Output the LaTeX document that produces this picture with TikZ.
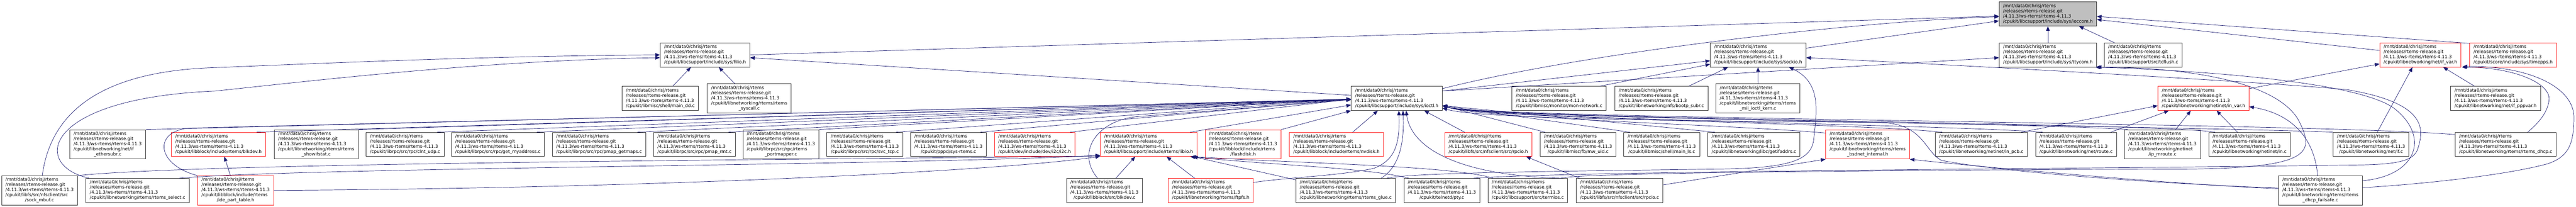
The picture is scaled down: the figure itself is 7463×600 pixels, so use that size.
\documentclass[tikz,border=0pt]{standalone}
\usepackage{fontspec}
\setmainfont{DejaVu Sans}
\usepackage{xcolor}
\usepackage{tikz}
\usetikzlibrary{shapes, arrows.meta, positioning, calc}
\definecolor{edgeblue}{RGB}{25,25,112}
\definecolor{truncred}{RGB}{255,30,30}
\definecolor{rootgray}{RGB}{191,191,191}
\newcommand{\rtfile}[1]{\begin{tabular}{@{}l@{}}/mnt/data0/chrisj/rtems\\/releases/rtems-release.git\\/4.11.3/ws-rtems/rtems-4.11.3\\#1\end{tabular}}
\newcommand{\lastln}[1]{\multicolumn{1}{@{}c@{}}{#1}}

\begin{document}
\begin{tikzpicture}
  [
    x=0.75pt, y=-0.75pt,
    >={Triangle[length=10pt, width=8pt]},
    File/.style={rectangle, draw=black!80, fill=white, line width=1pt, inner xsep=8.5pt, inner ysep=3.75pt, font=\fontsize{9.7}{11.2}\selectfont},
    Trunc/.style={File, draw=truncred},
    Root/.style={File, fill=rootgray},
    Edge/.style={draw=edgeblue, line width=0.8pt}
  ]
  \useasboundingbox (0,0) rectangle (7463,600);
  % Nodes
  \node[Root] (ioccom) at (5933, 40.6) {\rtfile{\lastln{/cpukit/libcsupport/include/sys/ioccom.h}}};
  \node[File] (filio) at (2042.5, 159.2) {\rtfile{\lastln{/cpukit/libcsupport/include/sys/filio.h}}};
  \node[File] (sockio) at (5093.5, 159.2) {\rtfile{\lastln{/cpukit/libcsupport/include/sys/sockio.h}}};
  \node[File] (ttycom) at (5933, 159.2) {\rtfile{\lastln{/cpukit/libcsupport/include/sys/ttycom.h}}};
  \node[File] (tcflush) at (6208.9, 159.2) {\rtfile{\lastln{/cpukit/libcsupport/src/tcflush.c}}};
  \node[Trunc] (ifvar) at (7012.2, 159.2) {\rtfile{\lastln{/cpukit/libnetworking/net/if\_var.h}}};
  \node[Trunc] (timepps) at (7280.5, 159.2) {\rtfile{\lastln{/cpukit/score/include/sys/timepps.h}}};
  \node[File] (maindd) at (1913, 285.3) {\rtfile{\lastln{/cpukit/libmisc/shell/main\_dd.c}}};
  \node[File] (syscall) at (2170.6, 285.3) {\rtfile{/cpukit/libnetworking/rtems/rtems\\\lastln{\_syscall.c}}};
  \node[File] (ioctl) at (4046.6, 285.3) {\rtfile{\lastln{/cpukit/libcsupport/include/sys/ioctl.h}}};
  \node[File] (monnet) at (4517, 285.3) {\rtfile{\lastln{/cpukit/libmisc/monitor/mon-network.c}}};
  \node[File] (bootp) at (4813.2, 285.3) {\rtfile{\lastln{/cpukit/libnetworking/nfs/bootp\_subr.c}}};
  \node[File] (miikern) at (5092.8, 285.3) {\rtfile{/cpukit/libnetworking/rtems/rtems\\\lastln{\_mii\_ioctl\_kern.c}}};
  \node[Trunc] (invar) at (6383.8, 285.3) {\rtfile{\lastln{/cpukit/libnetworking/netinet/in\_var.h}}};
  \node[File] (pppvar) at (7229.9, 285.3) {\rtfile{\lastln{/cpukit/libnetworking/net/if\_pppvar.h}}};
  \node[File] (ethersubr) at (311.8, 418.6) {\rtfile{/cpukit/libnetworking/net/if\\\lastln{\_ethersubr.c}}};
  \node[Trunc] (blkdevh) at (633, 418.6) {\rtfile{\lastln{/cpukit/libblock/include/rtems/blkdev.h}}};
  \node[File] (showifstat) at (916, 418.6) {\rtfile{/cpukit/libnetworking/rtems/rtems\\\lastln{\_showifstat.c}}};
  \node[File] (clntudp) at (1173.6, 418.6) {\rtfile{\lastln{/cpukit/librpc/src/rpc/clnt\_udp.c}}};
  \node[File] (getmyaddr) at (1442.4, 418.6) {\rtfile{\lastln{/cpukit/librpc/src/rpc/get\_myaddress.c}}};
  \node[File] (pmapgetmaps) at (1735.5, 418.6) {\rtfile{\lastln{/cpukit/librpc/src/rpc/pmap\_getmaps.c}}};
  \node[File] (pmaprmt) at (2012, 418.6) {\rtfile{\lastln{/cpukit/librpc/src/rpc/pmap\_rmt.c}}};
  \node[File] (portmapper) at (2262.5, 418.6) {\rtfile{/cpukit/librpc/src/rpc/rtems\\\lastln{\_portmapper.c}}};
  \node[File] (svctcp) at (2505.5, 418.6) {\rtfile{\lastln{/cpukit/librpc/src/rpc/svc\_tcp.c}}};
  \node[File] (sysrtems) at (2747.8, 418.6) {\rtfile{\lastln{/cpukit/pppd/sys-rtems.c}}};
  \node[Trunc] (i2c) at (2997.3, 418.6) {\rtfile{\lastln{/cpukit/dev/include/dev/i2c/i2c.h}}};
  \node[Trunc] (libio) at (3327.8, 418.6) {\rtfile{\lastln{/cpukit/libcsupport/include/rtems/libio.h}}};
  \node[Trunc] (flashdisk) at (3601.3, 418.6) {\rtfile{/cpukit/libblock/include/rtems\\\lastln{/flashdisk.h}}};
  \node[Trunc] (nvdisk) at (3871.8, 418.6) {\rtfile{\lastln{/cpukit/libblock/include/rtems/nvdisk.h}}};
  \node[Trunc] (rpcioh) at (4311.7, 418.6) {\rtfile{\lastln{/cpukit/libfs/src/nfsclient/src/rpcio.h}}};
  \node[File] (mwuid) at (4571.8, 418.6) {\rtfile{\lastln{/cpukit/libmisc/fb/mw\_uid.c}}};
  \node[File] (mainls) at (4814.3, 418.6) {\rtfile{\lastln{/cpukit/libmisc/shell/main\_ls.c}}};
  \node[File] (getifaddrs) at (5081.3, 418.6) {\rtfile{\lastln{/cpukit/libnetworking/libc/getifaddrs.c}}};
  \node[Trunc] (bsdnetint) at (5410.8, 418.6) {\rtfile{/cpukit/libnetworking/rtems/rtems\\\lastln{\_bsdnet\_internal.h}}};
  \node[File] (inpcb) at (5740, 418.6) {\rtfile{\lastln{/cpukit/libnetworking/netinet/in\_pcb.c}}};
  \node[File] (route) at (6014.5, 418.6) {\rtfile{\lastln{/cpukit/libnetworking/net/route.c}}};
  \node[File] (ipmroute) at (6264.8, 418.6) {\rtfile{/cpukit/libnetworking/netinet\\\lastln{/ip\_mroute.c}}};
  \node[File] (inc) at (6517.3, 418.6) {\rtfile{\lastln{/cpukit/libnetworking/netinet/in.c}}};
  \node[File] (ifc) at (6869.2, 418.6) {\rtfile{\lastln{/cpukit/libnetworking/net/if.c}}};
  \node[File] (dhcp) at (7259.1, 418.6) {\rtfile{\lastln{/cpukit/libnetworking/rtems/rtems\_dhcp.c}}};
  \node[File] (sockmbuf) at (114.5, 551.9) {\rtfile{/cpukit/libfs/src/nfsclient/src\\\lastln{/sock\_mbuf.c}}};
  \node[File] (select) at (398.5, 551.9) {\rtfile{\lastln{/cpukit/libnetworking/rtems/rtems\_select.c}}};
  \node[Trunc] (idepart) at (682.5, 551.9) {\rtfile{/cpukit/libblock/include/rtems\\\lastln{/ide\_part\_table.h}}};
  \node[File] (blkdevc) at (3199.8, 551.9) {\rtfile{\lastln{/cpukit/libblock/src/blkdev.c}}};
  \node[Trunc] (ftpfs) at (3507.8, 551.9) {\rtfile{\lastln{/cpukit/libnetworking/rtems/ftpfs.h}}};
  \node[File] (glue) at (3898.6, 551.9) {\rtfile{\lastln{/cpukit/libnetworking/rtems/rtems\_glue.c}}};
  \node[File] (pty) at (4177.3, 551.9) {\rtfile{\lastln{/cpukit/telnetd/pty.c}}};
  \node[File] (termios) at (4426.2, 551.9) {\rtfile{\lastln{/cpukit/libcsupport/src/termios.c}}};
  \node[File] (rpcioc) at (4692, 551.9) {\rtfile{\lastln{/cpukit/libfs/src/nfsclient/src/rpcio.c}}};
  \node[File] (failsafe) at (6722.4, 551.9) {\rtfile{/cpukit/libnetworking/rtems/rtems\\\lastln{\_dhcp\_failsafe.c}}};
  % Lines into ioccom.h
  \path [<-, draw, Edge] ($(ioccom.west)+(0,6)$) -- (filio.east);
  \path [<-, draw, Edge] ($(ioccom.west)+(0,8)$) .. controls (5400,60) and (4600,150) .. ($(ioctl.north east)+(0,7)$);
  \path [<-, draw, Edge] ($(ioccom.west)+(0,20)$) -- ($(sockio.north east)+(0,16)$);
  \path [<-, draw, Edge] (ioccom) -- (ttycom);
  \path [<-, draw, Edge] ($(ioccom.south east)+(-52,0)$) -- ($(tcflush.north west)+(30,0)$);
  \path [<-, draw, Edge] ($(ioccom.east)+(0,7)$) -- ($(timepps.north west)+(0,2)$);
  \path [<-, draw, Edge] ($(ioccom.east)+(0,16)$) -- ($(ifvar.west)+(0,-13)$);
  % Lines into filio.h
  \path [<-, draw, Edge] (filio.west) .. controls (1400,162) and (900,185) .. (622,196) .. controls (330,205) and (150,300) .. ($(sockmbuf.north)+(8,0)$);
  \path [<-, draw, Edge] ($(filio.west)+(0,8)$) .. controls (1400,175) and (900,235) .. (622,264) .. controls (120,285) and (90,480) .. ($(select.north west)+(10,0)$);
  \path [<-, draw, Edge] ($(filio.south)+(-41,0)$) -- ($(maindd.north)+(36,0)$);
  \path [<-, draw, Edge] ($(filio.south)+(40,0)$) -- ($(syscall.north)+(-42,0)$);
  \path [<-, draw, Edge] ($(filio.east)+(0,8)$) -- ($(ioctl.west)+(0,-9)$);
  % Lines into sockio.h
  \path [<-, draw, Edge] ($(sockio.west)+(0,17)$) -- ($(ioctl.north east)+(0,14)$);
  \path [<-, draw, Edge] ($(sockio.west)+(0,27)$) -- ($(monnet.north east)+(-19,0)$);
  \path [<-, draw, Edge] ($(sockio.south west)+(52,0)$) -- ($(bootp.north east)+(-56,0)$);
  \path [<-, draw, Edge] (sockio) -- (miikern);
  \path [<-, draw, Edge] ($(sockio.south east)+(-50,0)$) .. controls (5280,240) and (5262,330) .. (5255,400) .. controls (5250,460) and (5200,488) .. (4976,490) .. controls (4500,497) and (4100,500) .. ($(glue.north east)+(-26,0)$);
  \path [<-, draw, Edge] ($(sockio.east)+(0,8)$) .. controls (5700,190) and (6600,240) .. (6800,260) .. controls (7040,300) and (7020,380) .. (7005,430) .. controls (6995,465) and (6950,476) .. (6842,478) .. controls (6000,490) and (4600,495) .. ($(pty.north east)+(-19,0)$);
  % Lines into ttycom.h
  \path [<-, draw, Edge] ($(ttycom.west)+(0,8)$) -- ($(ioctl.north east)+(0,14)$);
  \path [<-, draw, Edge] (ttycom.south east) .. controls (6350,195) and (6600,240) .. (6660,350) .. controls (6710,450) and (6700,495) .. (6220,490) .. controls (5500,494) and (4580,500) .. ($(termios.north east)+(-20,0)$);
  \path [<-, draw, Edge] ($(ttycom.south east)+(-4,0)$) .. controls (6400,205) and (6850,240) .. (6941,318) .. controls (7040,400) and (7000,510) .. ($(failsafe.east)+(0,-28)$);
  % Lines into if_var.h
  \path [<-, draw, Edge] ($(ifvar.west)+(0,26)$) -- ($(invar.north east)+(0,7)$);
  \path [<-, draw, Edge] ($(ifvar.south)+(-23,0)$) -- ($(ifc.north)+(18,0)$);
  \path [<-, draw, Edge] ($(ifvar.south)+(66,0)$) -- ($(pppvar.north)+(-61,0)$);
  \path [<-, draw, Edge] ($(ifvar.south east)+(2,0)$) .. controls (7280,195) and (7390,240) .. (7385,290) .. controls (7380,330) and (7350,360) .. ($(dhcp.north east)+(-83,0)$);
  \path [<-, draw, Edge] ($(ifvar.south east)+(4,-2)$) .. controls (7320,190) and (7460,250) .. (7457,344) .. controls (7456,420) and (7440,455) .. (7380,475) .. controls (7250,510) and (7000,535) .. ($(failsafe.east)+(0,-8)$);
  % Lines into in_var.h
  \path [<-, draw, Edge] ($(invar.west)+(0,21)$) -- ($(inpcb.north east)+(-18,0)$);
  \path [<-, draw, Edge] ($(invar.south west)+(32,0)$) -- ($(route.north east)+(-17,0)$);
  \path [<-, draw, Edge] ($(invar.south)+(-37,0)$) -- ($(ipmroute.north)+(38,0)$);
  \path [<-, draw, Edge] ($(invar.south)+(38,0)$) -- ($(inc.north)+(-35,0)$);
  \path [<-, draw, Edge] ($(invar.east)+(0,24)$) .. controls (6640,330) and (6705,400) .. ($(failsafe.north)+(-8,0)$);
  % Lines into ioctl.h from the left
  \path [<-, draw, Edge] ($(ioctl.west)+(0,2)$) -- (ethersubr.north east);
  \path [<-, draw, Edge] ($(ioctl.west)+(0,2)$) -- ($(blkdevh.north east)+(-27,0)$);
  \path [<-, draw, Edge] ($(ioctl.west)+(0,3)$) -- (560,371) .. controls (445,372) and (445,475) .. (idepart.north west);
  \path [<-, draw, Edge] ($(ioctl.west)+(0,2)$) -- (showifstat.north east);
  \path [<-, draw, Edge] ($(ioctl.west)+(0,2)$) -- ($(clntudp.north east)+(-21,0)$);
  \path [<-, draw, Edge] ($(ioctl.west)+(0,2)$) -- ($(getmyaddr.north east)+(-23,0)$);
  \path [<-, draw, Edge] ($(ioctl.west)+(0,2)$) -- ($(pmapgetmaps.north east)+(-25,0)$);
  \path [<-, draw, Edge] ($(ioctl.west)+(0,2)$) -- ($(pmaprmt.north east)+(-21,0)$);
  \path [<-, draw, Edge] ($(ioctl.west)+(0,2)$) -- (portmapper.north east);
  \path [<-, draw, Edge] ($(ioctl.west)+(0,2)$) -- ($(svctcp.north east)+(-20,0)$);
  \path [<-, draw, Edge] ($(ioctl.west)+(0,2)$) -- ($(sysrtems.north east)+(-18,0)$);
  \path [<-, draw, Edge] ($(ioctl.west)+(0,2)$) -- ($(i2c.north east)+(-14,0)$);
  \path [<-, draw, Edge] ($(ioctl.west)+(0,4)$) -- (3308,337) .. controls (3180,343) and (3115,440) .. ($(blkdevc.north)+(-20,0)$);
  \path [<-, draw, Edge] ($(ioctl.west)+(0,19)$) -- ($(libio.north east)+(-20,0)$);
  \path [<-, draw, Edge] (ioctl.south west) -- (flashdisk.north east);
  % Lines into ioctl.h from below
  \path [<-, draw, Edge] ($(ioctl.south)+(-55,0)$) -- ($(nvdisk.north)+(47,0)$);
  \path [<-, draw, Edge] ($(ioctl.south)+(6,0)$) .. controls (4056,420) and (4040,465) .. (3980,488) .. controls (3880,510) and (3720,515) .. ($(ftpfs.east)+(0,-23)$);
  \path [<-, draw, Edge] ($(ioctl.south)+(18,0)$) .. controls (4068,400) and (4060,480) .. ($(glue.north)+(103,0)$);
  \path [<-, draw, Edge] ($(ioctl.south)+(27,0)$) .. controls (4090,440) and (4250,510) .. ($(termios.north east)+(-20,0)$);
  \path [<-, draw, Edge] ($(ioctl.south east)+(-53,0)$) -- ($(rpcioh.north west)+(58,0)$);
  % Lines into ioctl.h from the right
  \path [<-, draw, Edge] ($(ioctl.east)+(0,21)$) -- ($(mwuid.north west)+(15,0)$);
  \path [<-, draw, Edge] ($(ioctl.east)+(0,21)$) -- ($(mainls.north west)+(18,0)$);
  \path [<-, draw, Edge] ($(ioctl.east)+(0,21)$) -- ($(getifaddrs.north west)+(21,0)$);
  \path [<-, draw, Edge] ($(ioctl.east)+(0,21)$) .. controls (4300,345) and (5000,360) .. ($(bsdnetint.north west)+(0,10)$);
  \path [<-, draw, Edge] ($(ioctl.east)+(0,21)$) .. controls (4300,345) and (5350,355) .. ($(inpcb.north west)+(21,0)$);
  \path [<-, draw, Edge] ($(ioctl.east)+(0,21)$) .. controls (4300,345) and (5600,360) .. ($(route.north west)+(21,0)$);
  \path [<-, draw, Edge] ($(ioctl.east)+(0,21)$) .. controls (4300,345) and (5900,355) .. ($(ipmroute.north west)+(10,0)$);
  \path [<-, draw, Edge] ($(ioctl.east)+(0,21)$) .. controls (4300,345) and (6250,355) .. ($(inc.north west)+(19,0)$);
  \path [<-, draw, Edge] ($(ioctl.east)+(0,21)$) .. controls (4300,345) and (6300,365) .. (ifc.north west);
  \path [<-, draw, Edge] ($(ioctl.east)+(0,21)$) .. controls (4300,345) and (6700,355) .. ($(dhcp.north west)+(0,7)$);
  \path [<-, draw, Edge] ($(ioctl.east)+(0,28)$) .. controls (4300,350) and (5200,352) .. (5450,355) .. controls (5575,360) and (5575,440) .. (5625,465) .. controls (5800,500) and (6300,535) .. ($(failsafe.west)+(0,-7)$);
  % Lines into libio.h
  \path [<-, draw, Edge] ($(libio.south west)+(0,-2)$) .. controls (2500,462) and (600,470) .. (sockmbuf.north east);
  \path [<-, draw, Edge] ($(libio.south west)+(0,-4)$) .. controls (2600,480) and (900,485) .. ($(select.north east)+(-29,0)$);
  \path [<-, draw, Edge] ($(libio.south west)+(0,-1)$) .. controls (2950,490) and (2000,545) .. (idepart.east);
  \path [<-, draw, Edge] ($(libio.south)+(-39,0)$) -- ($(blkdevc.north)+(33,0)$);
  \path [<-, draw, Edge] ($(libio.south)+(52,0)$) -- ($(ftpfs.north)+(-47,0)$);
  \path [<-, draw, Edge] ($(libio.south east)+(-20,0)$) .. controls (3700,480) and (3950,485) .. ($(pty.north west)+(15,0)$);
  \path [<-, draw, Edge] ($(libio.south east)+(-16,0)$) .. controls (3800,475) and (4200,480) .. ($(termios.north west)+(16,0)$);
  \path [<-, draw, Edge] ($(libio.south east)+(-12,0)$) -- ($(glue.north west)+(0,5)$);
  % Other lines
  \path [<-, draw, Edge] ($(blkdevh.south)+(17,0)$) -- ($(idepart.north)+(-15,0)$);
  \path [<-, draw, Edge] ($(rpcioh.south east)+(-17,0)$) -- ($(rpcioc.north west)+(10,0)$);
  \path [<-, draw, Edge] (bsdnetint.south west) -- ($(rpcioc.east)+(0,-16)$);
  \path [<-, draw, Edge] (bsdnetint.south east) .. controls (5700,480) and (6300,535) .. ($(failsafe.west)+(0,-5)$);
\end{tikzpicture}
\end{document}
